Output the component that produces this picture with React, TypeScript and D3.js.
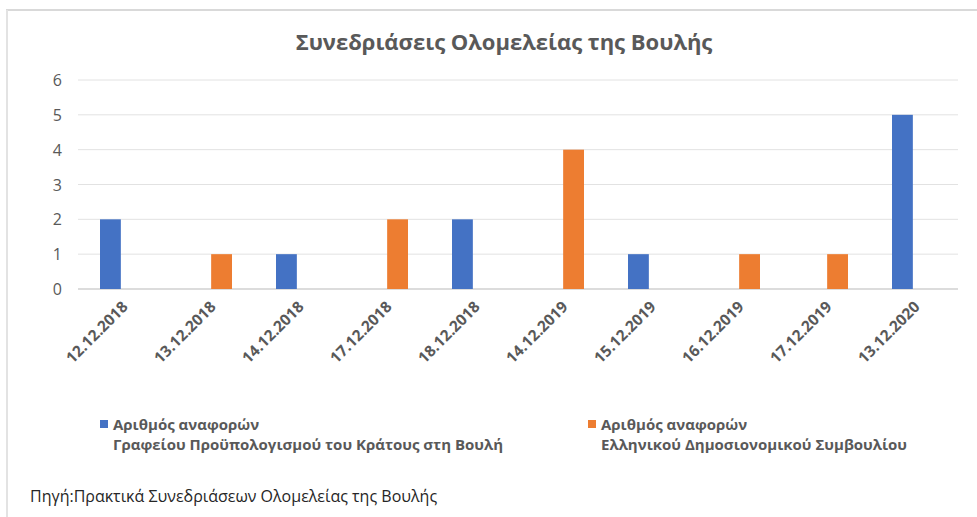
import * as d3 from "d3";
import { useRef, useEffect } from "react";

// δεδομένα του γραφήματος
const dates = [
  "12.12.2018", "13.12.2018", "14.12.2018", "17.12.2018", "18.12.2018",
  "14.12.2019", "15.12.2019", "16.12.2019", "17.12.2019", "13.12.2020",
];
const pbo = [2, 0, 1, 0, 2, 0, 1, 0, 0, 5];
const hfc = [0, 1, 0, 2, 0, 4, 0, 1, 1, 0];
const yTicks = [0, 1, 2, 3, 4, 5, 6];
const seriesNames = [
  ["Αριθμός αναφορών", "Γραφείου Προϋπολογισμού του Κράτους στη Βουλή"],
  ["Αριθμός αναφορών", "Ελληνικού Δημοσιονομικού Συμβουλίου"],
];
const colors = ["#4472C4", "#ED7D31"];

const W = 977;
const H = 517;
const FONT = "'Open Sans', 'Noto Sans', sans-serif";

export default function App() {
  const ref = useRef<SVGSVGElement>(null);

  useEffect(() => {
    const svg = d3.select(ref.current);
    svg.selectAll("*").remove();

    const margin = { top: 80, left: 78, right: 19 };
    const plotBottom = 289;

    // πλαίσιο
    svg.append("line").attr("x1", 6).attr("x2", W).attr("y1", 10).attr("y2", 10)
      .attr("stroke", "#d9d9d9").attr("stroke-width", 2);
    svg.append("line").attr("x1", 7).attr("x2", 7).attr("y1", 10).attr("y2", H)
      .attr("stroke", "#e3e3e3").attr("stroke-width", 2);

    const x = d3.scaleBand().domain(dates).range([margin.left, W - margin.right]);
    const y = d3.scaleLinear().domain([0, 6]).range([plotBottom, margin.top]);
    const sub = d3.scaleBand().domain(["0", "1"]).range([x.bandwidth() / 2 - 22, x.bandwidth() / 2 + 22]).paddingInner(0.1);

    // τίτλος
    svg.append("text")
      .attr("x", 504).attr("y", 50)
      .attr("text-anchor", "middle")
      .attr("font-family", FONT).attr("font-size", 22).attr("font-weight", "bold")
      .attr("fill", "#595959")
      .text("Συνεδριάσεις Ολομελείας της Βουλής");

    // γραμμές πλέγματος
    svg.append("g").selectAll("line").data(yTicks).join("line")
      .attr("x1", margin.left).attr("x2", W - margin.right)
      .attr("y1", (d) => y(d)).attr("y2", (d) => y(d))
      .attr("stroke", (d) => (d === 0 ? "#d0d0d0" : "#e2e2e2"))
      .attr("stroke-width", (d) => (d === 0 ? 1.5 : 1));

    svg.append("g").selectAll("text").data(yTicks).join("text")
      .attr("x", 62).attr("y", (d) => y(d) + 6)
      .attr("text-anchor", "end")
      .attr("font-family", FONT).attr("font-size", 16)
      .attr("fill", "#595959")
      .text((d) => d);

    // ράβδοι
    [pbo, hfc].forEach((vals, i) => {
      svg.append("g").selectAll("rect").data(vals.map((v, j) => ({ v, d: dates[j] })).filter((e) => e.v > 0)).join("rect")
        .attr("x", (e) => (x(e.d) ?? 0) + (sub(String(i)) ?? 0))
        .attr("y", (e) => y(e.v))
        .attr("width", sub.bandwidth())
        .attr("height", (e) => plotBottom - y(e.v))
        .attr("fill", colors[i]);
    });

    // ετικέτες άξονα x
    svg.append("g").selectAll("text").data(dates).join("text")
      .attr("transform", (d) => `translate(${(x(d) ?? 0) + x.bandwidth() / 2 + 3},${plotBottom + 15}) rotate(-45)`)
      .attr("text-anchor", "end")
      .attr("dy", "0.35em")
      .attr("font-family", FONT).attr("font-size", 15.5).attr("font-weight", "bold")
      .attr("fill", "#595959")
      .text((d) => d);

    // υπόμνημα
    const legX = [100, 588];
    seriesNames.forEach((lines, i) => {
      const g = svg.append("g").attr("transform", `translate(${legX[i]},0)`);
      g.append("rect").attr("x", 0).attr("y", 420).attr("width", 8).attr("height", 8).attr("fill", colors[i]);
      lines.forEach((t, k) => {
        g.append("text")
          .attr("x", 13).attr("y", 430 + k * 20)
          .attr("font-family", FONT).attr("font-size", 15).attr("font-weight", "bold")
          .attr("fill", "#595959")
          .text(t);
      });
    });

    // πηγή
    svg.append("text")
      .attr("x", 30).attr("y", 502)
      .attr("font-family", FONT).attr("font-size", 16)
      .attr("fill", "#262626")
      .text("Πηγή:Πρακτικά Συνεδριάσεων Ολομελείας της Βουλής");
  }, []);

  return <svg ref={ref} width={W} height={H} style={{ position: "absolute", left: 0, top: 0, background: "#fff" }} />;
}
